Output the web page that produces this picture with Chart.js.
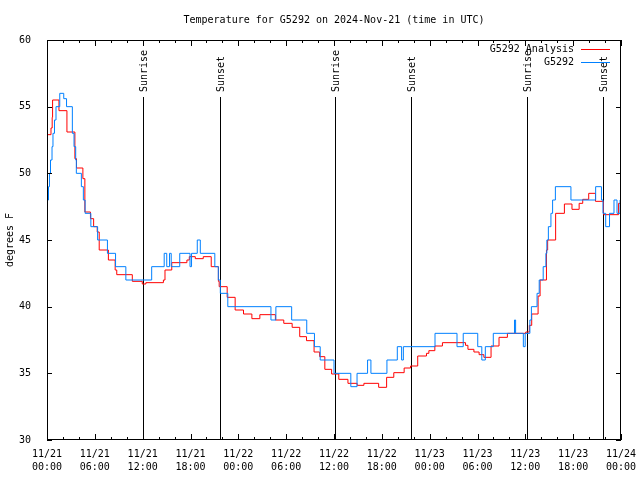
<!DOCTYPE html>
<html>
<head>
<meta charset="utf-8">
<title>Temperature for G5292</title>
<script src="https://cdn.jsdelivr.net/npm/chart.js@4/dist/chart.umd.min.js"></script>
<style>
  html, body { margin: 0; padding: 0; background: #fff; }
</style>
</head>
<body>
<canvas id="chart" width="640" height="480"></canvas>
<script>
// hours after 11/21 00:00 UTC -> temperature (F); each value holds until the next entry
const analysisSteps = [
  [0, 52.9], [0.5, 53.4], [0.65, 54.2], [0.7, 55.5], [1.5, 54.7], [2.5, 53.1], [3.5, 51.1],
  [3.7, 50.4], [4.5, 49.6], [4.75, 47.1], [5.45, 46.6], [5.85, 46.0], [6.3, 45.6], [6.55, 44.25],
  [7.7, 43.5], [8.55, 42.75], [8.75, 42.4], [10.7, 41.9], [11.95, 41.7], [12.4, 41.8], [14.6, 42.0],
  [14.8, 42.75], [15.65, 43.3], [17.55, 43.5], [17.85, 43.75], [18.6, 43.6], [19.6, 43.75],
  [20.6, 43.0], [21.5, 41.9], [21.6, 41.5], [22.6, 40.7], [23.6, 39.75], [24.65, 39.45],
  [25.7, 39.1], [26.7, 39.4], [28.65, 39.0], [29.7, 38.75], [30.75, 38.45], [31.7, 37.75],
  [32.55, 37.45], [33.5, 36.6], [34.2, 36.25], [34.85, 35.3], [35.7, 34.95], [36.6, 34.55],
  [37.75, 34.25], [38.9, 34.1], [39.75, 34.25], [41.6, 33.95], [42.6, 34.7], [43.5, 35.05],
  [44.8, 35.4], [45.6, 35.55], [46.5, 36.3], [47.6, 36.5], [47.9, 36.7], [48.65, 37.05],
  [49.6, 37.3], [52.5, 37.1], [52.8, 36.8], [53.55, 36.6], [54.2, 36.4], [54.8, 36.2],
  [55.7, 37.05], [56.7, 37.7], [57.75, 38.0], [60.05, 38.1], [60.5, 38.6], [60.8, 39.45],
  [61.6, 40.8], [61.85, 42.0], [62.65, 44.25], [62.8, 45.0], [63.8, 47.0], [64.9, 47.7],
  [65.85, 47.3], [66.75, 47.75], [67.2, 48.05], [67.95, 48.5], [68.8, 47.9], [69.8, 46.9],
  [71.7, 47.75], [72, 47.75]
];

const obsSteps = [
  [0, 48], [0.19, 49], [0.31, 50], [0.44, 51], [0.63, 52], [0.75, 53], [0.94, 54], [1.13, 55],
  [1.6, 56], [2.1, 55.6], [2.45, 55], [3.18, 53], [3.39, 52], [3.6, 51], [3.68, 50], [4.31, 49],
  [4.56, 48], [4.78, 47], [5.5, 46], [6.35, 45], [7.58, 44], [8.6, 43], [9.89, 42], [13.13, 43],
  [14.7, 44], [15.02, 43], [15.37, 44], [15.58, 43], [16.65, 44], [17.94, 43], [18.13, 44],
  [18.85, 45], [19.23, 44], [21.05, 43], [21.49, 42], [21.74, 41], [22.68, 40], [28.09, 39],
  [28.71, 40], [30.69, 39], [32.58, 38], [33.55, 37], [34.27, 36], [36.0, 35], [38.11, 34],
  [38.89, 35], [40.21, 36], [40.63, 35], [42.64, 36], [43.94, 37], [44.48, 36], [44.7, 37],
  [48.67, 38], [51.43, 37], [52.21, 38], [54.03, 37], [54.54, 36], [54.98, 37], [55.98, 38],
  [58.64, 39], [58.78, 38], [59.75, 37], [59.98, 38], [60.57, 39], [60.76, 40], [61.47, 41],
  [61.74, 42], [62.24, 43], [62.58, 44], [62.7, 45], [62.89, 46], [63.21, 47], [63.42, 48],
  [63.77, 49], [65.72, 48], [68.82, 49], [69.55, 48], [69.74, 47], [70.08, 46], [70.56, 47],
  [71.12, 48], [71.5, 47], [71.88, 48], [72, 48]
];

const sunHours = [11.98, 21.65, 36.1, 45.65, 60.19, 69.78];
const sunLabels = ['Sunrise', 'Sunset', 'Sunrise', 'Sunset', 'Sunrise', 'Sunset'];

const xTickLabels = [
  ['11/21', '00:00'], ['11/21', '06:00'], ['11/21', '12:00'], ['11/21', '18:00'],
  ['11/22', '00:00'], ['11/22', '06:00'], ['11/22', '12:00'], ['11/22', '18:00'],
  ['11/23', '00:00'], ['11/23', '06:00'], ['11/23', '12:00'], ['11/23', '18:00'],
  ['11/24', '00:00']
];

const seriesNames = ['G5292 Analysis', 'G5292'];
const seriesColors = ['#ff0000', '#0080ff'];
const titleText = 'Temperature for G5292 on 2024-Nov-21 (time in UTC)';

const FONT = '10px "DejaVu Sans Mono", monospace';
Chart.defaults.font.family = '"DejaVu Sans Mono", monospace';
Chart.defaults.font.size = 10;
Chart.defaults.color = '#000';

// gnuplot-like frame, inward ticks, sun markers, title and key
const decorations = {
  id: 'decorations',
  beforeDatasetsDraw(chart) {
    const { ctx, chartArea: a, scales: { x } } = chart;
    ctx.save();
    ctx.strokeStyle = '#000';
    ctx.lineWidth = 1;
    ctx.fillStyle = '#000';
    ctx.font = FONT;
    sunHours.forEach((h, i) => {
      const px = Math.round(x.getPixelForValue(h)) + 0.5;
      ctx.beginPath();
      ctx.moveTo(px, a.bottom);
      ctx.lineTo(px, a.top + 57);
      ctx.stroke();
      ctx.save();
      ctx.translate(px + 1, a.top + 52);
      ctx.rotate(-Math.PI / 2);
      ctx.textAlign = 'left';
      ctx.textBaseline = 'middle';
      ctx.fillText(sunLabels[i], 0, 0);
      ctx.restore();
    });
    ctx.restore();
  },
  afterDraw(chart) {
    const { ctx, chartArea: a, scales: { x, y } } = chart;
    ctx.save();
    ctx.strokeStyle = '#000';
    ctx.lineWidth = 1;
    ctx.strokeRect(a.left + 0.5, a.top + 0.5, a.right - a.left - 1, a.bottom - a.top - 1);
    ctx.beginPath();
    for (let h = 0; h <= 72; h += 2) {
      const px = Math.round(x.getPixelForValue(h)) + 0.5;
      const len = h % 6 === 0 ? 6 : 3;
      ctx.moveTo(px, a.bottom); ctx.lineTo(px, a.bottom - len);
      ctx.moveTo(px, a.top); ctx.lineTo(px, a.top + len);
    }
    for (let v = 30; v <= 60; v += 5) {
      const py = Math.round(y.getPixelForValue(v)) + 0.5;
      ctx.moveTo(a.left, py); ctx.lineTo(a.left + 5, py);
      ctx.moveTo(a.right, py); ctx.lineTo(a.right - 5, py);
    }
    ctx.stroke();

    ctx.fillStyle = '#000';
    ctx.font = FONT;
    ctx.textAlign = 'center';
    ctx.textBaseline = 'middle';
    ctx.fillText(titleText, (a.left + a.right) / 2, 20);

    // key
    ctx.textAlign = 'right';
    seriesNames.forEach((name, i) => {
      const ky = a.top + 9.5 + i * 13;
      ctx.fillStyle = '#000';
      ctx.fillText(name, a.right - 47, ky);
      ctx.strokeStyle = seriesColors[i];
      ctx.beginPath();
      ctx.moveTo(a.right - 40, Math.round(ky) - 0.5);
      ctx.lineTo(a.right - 11, Math.round(ky) - 0.5);
      ctx.stroke();
    });
    ctx.restore();
  }
};

const toPoints = steps => steps.map(([h, t]) => ({ x: h, y: t }));

new Chart(document.getElementById('chart'), {
  type: 'line',
  data: {
    datasets: [
      {
        label: seriesNames[0],
        data: toPoints(analysisSteps),
        borderColor: seriesColors[0],
        borderWidth: 1,
        stepped: true,
        pointRadius: 0,
        order: 1
      },
      {
        label: seriesNames[1],
        data: toPoints(obsSteps),
        borderColor: seriesColors[1],
        borderWidth: 1,
        stepped: true,
        pointRadius: 0,
        order: 0
      }
    ]
  },
  options: {
    responsive: false,
    devicePixelRatio: 1,
    animation: false,
    layout: { padding: { top: 40, right: 19, bottom: 0, left: 0 } },
    plugins: {
      legend: { display: false },
      tooltip: { enabled: false },
      title: { display: false }
    },
    scales: {
      x: {
        type: 'linear',
        min: 0,
        max: 72,
        grid: { display: false },
        border: { display: false },
        ticks: {
          stepSize: 6,
          autoSkip: false,
          maxRotation: 0,
          padding: 0,
          font: { lineHeight: 1.3 },
          callback: v => xTickLabels[v / 6] || ''
        },
        afterFit: s => { s.height = 40; s.paddingLeft = 0; s.paddingRight = 0; }
      },
      y: {
        min: 30,
        max: 60,
        grid: { display: false },
        border: { display: false },
        ticks: { stepSize: 5, padding: 8 },
        title: { display: true, text: 'degrees F', padding: { top: 4, bottom: 0 } },
        afterFit: s => { s.width = 47; s.paddingTop = 0; s.paddingBottom = 0; }
      }
    }
  },
  plugins: [decorations]
});
</script>
</body>
</html>
